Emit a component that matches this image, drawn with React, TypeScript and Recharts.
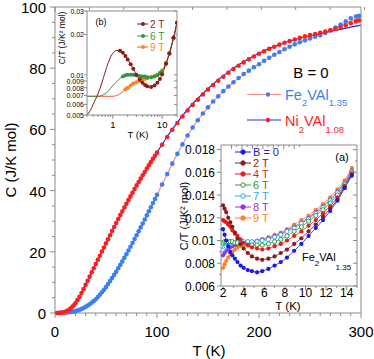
import React from 'react';
import { ComposedChart, LineChart, Line, XAxis, YAxis, CartesianGrid, Legend } from 'recharts';

const FONT = '"Liberation Sans", Arial, Helvetica, sans-serif';
const AXIS = '#8a8a8a';

// ---------- main panel: C(T) at B = 0 ----------
const tMain = [
  2, 4, 6, 8, 10, 12, 14, 16, 18, 20,
  22, 24, 26, 28, 30, 32, 34, 36, 38, 40,
  42, 44, 46, 48, 50, 52, 54, 56, 58, 60,
  62, 64, 66, 68, 70, 72, 74, 76, 78, 80,
  82, 84, 86, 88, 90, 92, 94, 96, 98, 100,
  105, 110, 115, 120, 125, 130, 135, 140, 145, 150,
  155, 160, 165, 170, 175, 180, 185, 190, 195, 200,
  205, 210, 215, 220, 225, 230, 235, 240, 245, 250,
  255, 260, 265, 270, 275, 280, 285, 290, 295, 298,
];
// Fe2VAl1.35 (blue dots)
const cFe = [
  0.0, 0.01, 0.03, 0.06, 0.1, 0.16, 0.24, 0.34, 0.46, 0.6,
  0.8, 1.03, 1.3, 1.63, 2.0, 2.42, 2.88, 3.38, 3.92, 4.5,
  5.22, 5.98, 6.78, 7.62, 8.5, 9.45, 10.42, 11.42, 12.45, 13.5,
  14.6, 15.72, 16.86, 18.02, 19.2, 20.42, 21.66, 22.9, 24.15, 25.4,
  26.68, 27.97, 29.27, 30.58, 31.9, 33.24, 34.58, 35.92, 37.26, 38.6,
  42.0, 45.4, 48.8, 52.0, 55.1, 58.0, 60.6, 63.0, 65.2, 67.2,
  69.1, 70.8, 72.5, 74.0, 75.4, 76.8, 78.1, 79.2, 80.3, 81.3,
  82.4, 83.4, 84.4, 85.3, 86.2, 87.0, 87.8, 88.5, 89.1, 89.7,
  90.3, 90.8, 91.5, 92.3, 93.3, 94.3, 95.3, 96.3, 96.9, 97.1,
];
// Ni2VAl1.08 (red dots)
const cNi = [
  0.01, 0.03, 0.08, 0.2, 0.4, 0.7, 1.15, 1.7, 2.4, 3.2,
  4.2, 5.3, 6.5, 7.8, 9.2, 10.5, 11.9, 13.3, 14.6, 16.0,
  17.4, 18.7, 20.1, 21.4, 22.8, 24.1, 25.4, 26.8, 28.1, 29.4,
  30.7, 32.0, 33.2, 34.5, 35.7, 36.9, 38.1, 39.3, 40.5, 41.7,
  42.8, 43.9, 45.0, 46.1, 47.2, 48.3, 49.3, 50.4, 51.4, 52.4,
  55.0, 57.5, 59.9, 62.1, 64.2, 66.2, 68.0, 69.7, 71.4, 73.0,
  74.5, 75.9, 77.2, 78.5, 79.7, 80.8, 81.9, 82.9, 83.8, 84.7,
  85.5, 86.3, 87.0, 87.7, 88.3, 88.9, 89.4, 89.9, 90.4, 90.8,
  91.2, 91.6, 92.0, 92.4, 92.9, 93.4, 94.0, 94.7, 95.3, 95.6,
];
// fit curves
const tFit = [0, 10, 20, 30, 40, 50, 60, 70, 80, 90, 100, 110, 120, 130, 140, 150, 160, 170, 180, 190, 200, 210, 220, 230, 240, 250, 260, 270, 280, 290, 300];
const feFit = [0, 0.1, 0.6, 2.0, 4.5, 8.5, 13.5, 19.2, 25.4, 31.9, 38.6, 45.4, 52.0, 58.0, 63.0, 67.2, 70.8, 74.0, 76.8, 79.2, 81.3, 83.4, 85.3, 87.0, 88.5, 89.7, 90.9, 92.4, 94.0, 95.4, 96.6];
const niFit = [0, 0.4, 3.2, 9.2, 16.0, 22.8, 29.4, 35.7, 41.7, 47.2, 52.5, 57.6, 62.3, 66.5, 70.1, 73.3, 76.2, 78.8, 81.1, 83.1, 84.9, 86.4, 87.7, 88.8, 89.8, 90.6, 91.3, 92.0, 92.7, 93.4, 94.1];

// ---------- inset (a): C/T vs T, Fe2VAl1.35, several fields ----------
const aT = [2.0, 2.15, 2.3, 2.5, 2.7, 2.9, 3.15, 3.4, 3.7, 4.0, 4.4, 4.8, 5.3, 5.8, 6.4, 7.0, 7.6, 8.2, 8.9, 9.6, 10.3, 11.0, 11.7, 12.4, 13.1, 13.8, 14.5];
const a0 = [0.0110, 0.0105, 0.0100, 0.0095, 0.0090, 0.0087, 0.0084, 0.0081, 0.0078, 0.0076, 0.0074, 0.0073, 0.0072, 0.0073, 0.0075, 0.0078, 0.0081, 0.0085, 0.0091, 0.0097, 0.0104, 0.0111, 0.0118, 0.0126, 0.0135, 0.0146, 0.0157];
const a2 = [0.0131, 0.0128, 0.0125, 0.0120, 0.0116, 0.0112, 0.0107, 0.0102, 0.0097, 0.0093, 0.0089, 0.0086, 0.0084, 0.0083, 0.0084, 0.0086, 0.0089, 0.0092, 0.0097, 0.0102, 0.0108, 0.0114, 0.0121, 0.0128, 0.0136, 0.0147, 0.0158];
const a4 = [0.0118, 0.0117, 0.0116, 0.0114, 0.0112, 0.0109, 0.0106, 0.0104, 0.0101, 0.0098, 0.0096, 0.0094, 0.0093, 0.0092, 0.0093, 0.0095, 0.0097, 0.0100, 0.0104, 0.0108, 0.0113, 0.0118, 0.0124, 0.0130, 0.0138, 0.0148, 0.0159];
const a6 = [0.0098, 0.0099, 0.0099, 0.0099, 0.0099, 0.0099, 0.0098, 0.0098, 0.0097, 0.0097, 0.0096, 0.0096, 0.0096, 0.0096, 0.0097, 0.0099, 0.0101, 0.0104, 0.0108, 0.0112, 0.0117, 0.0122, 0.0127, 0.0133, 0.0140, 0.0149, 0.0160];
const a7 = [0.0092, 0.0094, 0.0095, 0.0096, 0.0097, 0.0098, 0.0098, 0.0099, 0.0099, 0.0099, 0.0099, 0.0099, 0.0099, 0.0100, 0.0101, 0.0103, 0.0105, 0.0108, 0.0111, 0.0115, 0.0119, 0.0124, 0.0129, 0.0135, 0.0142, 0.0150, 0.0161];
const a8 = [0.0087, 0.0089, 0.0091, 0.0093, 0.0094, 0.0095, 0.0096, 0.0097, 0.0098, 0.0098, 0.0099, 0.0099, 0.0100, 0.0101, 0.0102, 0.0104, 0.0106, 0.0109, 0.0112, 0.0116, 0.0120, 0.0125, 0.0130, 0.0136, 0.0143, 0.0151, 0.0162];
const a9 = [0.0076, 0.0079, 0.0082, 0.0085, 0.0088, 0.0090, 0.0092, 0.0094, 0.0095, 0.0096, 0.0097, 0.0098, 0.0099, 0.0101, 0.0103, 0.0105, 0.0107, 0.0110, 0.0114, 0.0118, 0.0122, 0.0127, 0.0132, 0.0138, 0.0145, 0.0153, 0.0164];

// ---------- inset (b): C/T vs T, log-log, down to 0.3 K ----------
const bT = [0.3, 0.35, 0.4, 0.5, 0.6, 0.7, 0.8, 0.9, 1.0, 1.2, 1.4, 1.6, 1.8, 2.0, 2.3, 2.6, 3.0, 3.5, 4.0, 4.5, 5.0, 6.0, 7.0, 8.0, 9.0, 10, 12, 14, 17, 20];
const b2 = [0.0050, 0.0054, 0.0060, 0.0072, 0.0087, 0.0105, 0.0122, 0.0136, 0.0145, 0.0152, 0.0151, 0.0146, 0.0138, 0.0130, 0.0120, 0.0111, 0.0100, 0.0092, 0.0087, 0.0084, 0.0082, 0.0081, 0.0083, 0.0087, 0.0093, 0.0101, 0.0121, 0.0145, 0.0190, 0.0245];
const b6 = [0.0069, 0.0069, 0.0069, 0.0069, 0.0070, 0.0072, 0.0075, 0.0079, 0.0083, 0.0089, 0.0094, 0.0097, 0.0099, 0.0100, 0.0100, 0.0100, 0.0099, 0.0098, 0.0097, 0.0097, 0.0096, 0.0096, 0.0097, 0.0099, 0.0102, 0.0106, 0.0122, 0.0143, 0.0188, 0.0245];
const b9 = [0.0069, 0.0069, 0.0069, 0.0069, 0.0069, 0.0069, 0.0069, 0.0069, 0.0069, 0.0070, 0.0072, 0.0075, 0.0078, 0.0080, 0.0083, 0.0086, 0.0088, 0.0090, 0.0092, 0.0093, 0.0094, 0.0096, 0.0098, 0.0100, 0.0104, 0.0108, 0.0123, 0.0144, 0.0188, 0.0245];
// measured points start here (below it only the model curve is drawn)
const bDotsFrom = { b2: 1.4, b6: 1.6, b9: 1.8 };

// tick lists
const mainXTicks = Array.from({ length: 31 }, (_, i) => i * 10);
const mainYTicks = Array.from({ length: 21 }, (_, i) => i * 5);
const aXTicks = [2, 3, 4, 5, 6, 7, 8, 9, 10, 11, 12, 13, 14, 15];
const aYTicks = [0.006, 0.007, 0.008, 0.009, 0.01, 0.011, 0.012, 0.013, 0.014, 0.015, 0.016, 0.017, 0.018];
const bXTicks = [0.3, 0.4, 0.5, 0.6, 0.7, 0.8, 0.9, 1, 2, 3, 4, 5, 6, 7, 8, 9, 10, 20];
const bYTicks = [0.005, 0.006, 0.007, 0.008, 0.009, 0.01, 0.02, 0.03];

const mainRows = tMain.map((t, i) => ({ t, fe: cFe[i], ni: cNi[i] }));
const fitRows = tFit.map((t, i) => ({ t, feFit: feFit[i], niFit: niFit[i] }));
const aRows = aT.map((t, i) => ({ t, a0: a0[i], a2: a2[i], a4: a4[i], a6: a6[i], a7: a7[i], a8: a8[i], a9: a9[i] }));
const bRows = bT.map((t, i) => ({ t, b2: b2[i], b6: b6[i], b9: b9[i] }));

const C = {
  fe: '#3b7ff5', ni: '#ff1c1c', feFit: '#ff8c8c', niFit: '#2a2ad8',
  b0: '#1a1ae6', t2: '#8b1a1a', t4: '#e81c1c', t6: '#2e9a3e', t7: '#2aaaf0', t8: '#9a30e0', t9: '#ff8026', t9line: '#ff4a3a',
};

type Side = 'left' | 'right' | 'top' | 'bottom';
type TickOpt = {
  isMajor: (v: number) => boolean;
  major: number;
  minor: number;
  inward?: boolean;
  fmt?: (v: number) => string;
  gap?: number;
  size?: number;
};

// tick line + label; axes are given tickSize 0 / tickMargin 0 so (x, y) sits on the axis line
const axisTick = (side: Side, o: TickOpt) => (props: any) => {
  const { x, y, payload } = props;
  const v = payload.value;
  const maj = o.isMajor(v);
  const len = maj ? o.major : o.minor;
  const s = o.inward ? -1 : 1;
  let x2 = x;
  let y2 = y;
  if (side === 'left') x2 = x - s * len;
  else if (side === 'right') x2 = x + s * len;
  else if (side === 'bottom') y2 = y + s * len;
  else y2 = y - s * len;
  let label = null;
  if (o.fmt && maj) {
    const gap = o.gap ?? 4;
    const common = { fontSize: o.size ?? 12, fontFamily: FONT, fill: '#000' };
    if (side === 'left') {
      label = <text x={x - gap} y={y} dy="0.4em" textAnchor="end" {...common}>{o.fmt(v)}</text>;
    } else if (side === 'bottom') {
      label = <text x={x} y={y + gap} textAnchor="middle" {...common}>{o.fmt(v)}</text>;
    }
  }
  return (
    <g>
      <line x1={x} y1={y} x2={x2} y2={y2} stroke={AXIS} strokeWidth={1} />
      {label}
    </g>
  );
};

const near = (v: number, k: number) => Math.abs(v / k - Math.round(v / k)) < 1e-6;
const fmtNum = (v: number) => String(+v.toFixed(3));

const vText = (x: number, y: number, size: number, text: string) => (
  <text x={x} y={y} transform={`rotate(-90 ${x} ${y})`} textAnchor="middle" dominantBaseline="central" fontSize={size}>
    {text}
  </text>
);

// ---------- overlays (axis titles, legends, notes) ----------
const MainOverlay = () => (
  <svg width={374} height={359} style={{ display: 'block', fontFamily: FONT }}>
    {vText(10, 160, 15, 'C (J/K mol)')}
    <text x={209} y={356} textAnchor="middle" fontSize={15}>T (K)</text>
    <text x={311} y={78} textAnchor="middle" fontSize={15}>B = 0</text>
    <line x1={247} y1={94.5} x2={281} y2={94.5} stroke={C.feFit} strokeWidth={1.2} />
    <circle cx={268} cy={94.5} r={2.2} fill={C.fe} />
    <text x={285} y={100} fontSize={14.5} fill={C.fe}>
      Fe<tspan fontSize={9.5} dy={6}>2</tspan><tspan dy={-6}>VAl</tspan><tspan fontSize={9.5} dy={6}>1.35</tspan>
    </text>
    <line x1={247} y1={120} x2={281} y2={120} stroke={C.niFit} strokeWidth={1.2} />
    <circle cx={268} cy={120} r={2.2} fill={C.ni} />
    <text x={285} y={126} fontSize={14.5} fill={C.ni}>
      Ni<tspan fontSize={9.5} dy={7}>2</tspan><tspan dy={-7}>VAl</tspan><tspan fontSize={9.5} dy={7}>1.08</tspan>
    </text>
  </svg>
);

const aLegend = [
  { name: 'B = 0', color: C.b0, open: false },
  { name: '2 T', color: C.t2, open: false },
  { name: '4 T', color: C.t4, open: false },
  { name: '6 T', color: C.t6, open: true },
  { name: '7 T', color: C.t7, open: true },
  { name: '8 T', color: C.t8, open: false },
  { name: '9 T', color: C.t9, open: false },
];

const AOverlay = () => (
  <svg width={186} height={180} style={{ display: 'block', fontFamily: FONT }}>
    {vText(9, 76, 11, 'C/T (J/K² mol)')}
    <text x={113} y={170} textAnchor="middle" fontSize={11.5}>T (K)</text>
    <text x={167} y={21} textAnchor="middle" fontSize={11}>(a)</text>
    {aLegend.map((d, i) => (
      <g key={d.name}>
        <line x1={60} y1={12 + i * 11} x2={76} y2={12 + i * 11} stroke={d.color} strokeWidth={1} />
        <circle cx={68} cy={12 + i * 11} r={2.2} fill={d.open ? '#fff' : d.color} stroke={d.color} strokeWidth={1} />
        <text x={78} y={16 + i * 11} fontSize={11} fill={d.color}>{d.name}</text>
      </g>
    ))}
    <text x={127} y={121} fontSize={11}>
      Fe<tspan fontSize={8} dy={5}>2</tspan><tspan dy={-5}>VAl</tspan><tspan fontSize={8} dy={9}>1.35</tspan>
    </text>
  </svg>
);

const bLegend = [
  { name: '2 T', line: C.t2, dot: C.t2 },
  { name: '6 T', line: C.t6, dot: C.t6 },
  { name: '9 T', line: C.t9line, dot: C.t9 },
];

const BOverlay = () => (
  <svg width={130} height={140} style={{ display: 'block', fontFamily: FONT }}>
    {vText(12, 34, 8.5, 'C/T (J/K² mol)')}
    <text x={88} y={134} textAnchor="middle" fontSize={9.5}>T (K)</text>
    <text x={51} y={21} textAnchor="middle" fontSize={9}>(b)</text>
    {bLegend.map((d, i) => {
      const yy = [20, 32, 43][i];
      return (
        <g key={d.name}>
          <line x1={87} y1={yy} x2={98} y2={yy} stroke={d.line} strokeWidth={1} />
          <circle cx={93} cy={yy} r={2} fill={d.dot} />
          <text x={100} y={yy + 3.5} fontSize={10} fill={d.dot}>{d.name}</text>
        </g>
      );
    })}
  </svg>
);

const overlayLegend = (Comp: React.FC, w: number, h: number) => (
  <Legend
    layout="vertical"
    align="center"
    verticalAlign="middle"
    content={() => <Comp />}
    wrapperStyle={{ left: 0, top: 0, width: w, height: h, pointerEvents: 'none' }}
  />
);

// ---------- charts ----------
const MainChart = () => (
  <ComposedChart width={374} height={359} data={mainRows} margin={{ top: 0, right: 0, left: 0, bottom: 0 }}>
    <XAxis dataKey="t" type="number" domain={[0, 300]} ticks={mainXTicks} interval={0} height={46}
      tickSize={0} tickMargin={0} stroke={AXIS}
      tick={axisTick('bottom', { isMajor: (v) => near(v, 100), major: 5, minor: 3, fmt: String, gap: 24, size: 15 })} />
    <XAxis xAxisId="top" orientation="top" type="number" domain={[0, 300]} ticks={mainXTicks} interval={0} height={7}
      tickSize={0} tickMargin={0} stroke={AXIS}
      tick={axisTick('top', { isMajor: (v) => near(v, 100), major: 5, minor: 3, inward: true })} />
    <YAxis type="number" domain={[0, 100]} ticks={mainYTicks} interval={0} width={55}
      tickSize={0} tickMargin={0} stroke={AXIS}
      tick={axisTick('left', { isMajor: (v) => near(v, 20), major: 5, minor: 3, fmt: String, gap: 9, size: 15 })} />
    <YAxis yAxisId="right" orientation="right" type="number" domain={[0, 100]} ticks={mainYTicks} interval={0} width={13}
      tickSize={0} tickMargin={0} stroke={AXIS}
      tick={axisTick('right', { isMajor: (v) => near(v, 20), major: 5, minor: 3, inward: true })} />
    <Line data={fitRows} dataKey="feFit" type="monotone" stroke={C.feFit} strokeWidth={1.2} dot={false} activeDot={false} isAnimationActive={false} legendType="none" />
    <Line data={fitRows} dataKey="niFit" type="monotone" stroke={C.niFit} strokeWidth={1.2} dot={false} activeDot={false} isAnimationActive={false} legendType="none" />
    <Line dataKey="fe" stroke="none" dot={{ r: 2.3, fill: C.fe, stroke: 'none' }} activeDot={false} isAnimationActive={false} legendType="none" />
    <Line dataKey="ni" stroke="none" dot={{ r: 2.3, fill: C.ni, stroke: 'none' }} activeDot={false} isAnimationActive={false} legendType="none" />
    {overlayLegend(MainOverlay, 374, 359)}
  </ComposedChart>
);

const aSeries = [
  { key: 'a9', color: C.t9, open: false },
  { key: 'a8', color: C.t8, open: false },
  { key: 'a7', color: C.t7, open: true },
  { key: 'a6', color: C.t6, open: true },
  { key: 'a4', color: C.t4, open: false },
  { key: 'a2', color: C.t2, open: false },
  { key: 'a0', color: C.b0, open: false },
];

const InsetA = () => (
  <LineChart width={186} height={180} data={aRows} margin={{ top: 0, right: 0, left: 0, bottom: 0 }}>
    <CartesianGrid horizontal={false} vertical={false} fill="#fff" stroke="none" />
    <XAxis dataKey="t" type="number" domain={[1.8, 15]} ticks={aXTicks} interval={0} height={34} allowDataOverflow
      tickSize={0} tickMargin={0} stroke={AXIS}
      tick={axisTick('bottom', { isMajor: (v) => near(v, 2) && v < 15, major: 4, minor: 2, fmt: String, gap: 11, size: 12 })} />
    <XAxis xAxisId="top" orientation="top" type="number" domain={[1.8, 15]} ticks={aXTicks} interval={0} height={5} allowDataOverflow
      tickSize={0} tickMargin={0} stroke={AXIS}
      tick={axisTick('top', { isMajor: (v) => near(v, 2), major: 4, minor: 2, inward: true })} />
    <YAxis type="number" domain={[0.006, 0.0184]} ticks={aYTicks} interval={0} width={46} allowDataOverflow
      tickSize={0} tickMargin={0} stroke={AXIS}
      tick={axisTick('left', { isMajor: (v) => near(v, 0.002), major: 4, minor: 2, fmt: fmtNum, gap: 6, size: 12 })} />
    <YAxis yAxisId="right" orientation="right" type="number" domain={[0.006, 0.0184]} ticks={aYTicks} interval={0} width={4} allowDataOverflow
      tickSize={0} tickMargin={0} stroke={AXIS}
      tick={axisTick('right', { isMajor: (v) => near(v, 0.002), major: 4, minor: 2, inward: true })} />
    {aSeries.map((s) => (
      <Line key={s.key} dataKey={s.key} stroke={s.color} strokeWidth={0.8}
        dot={s.open ? { r: 2.1, fill: '#fff', stroke: s.color, strokeWidth: 1 } : { r: 2.1, fill: s.color, stroke: 'none' }}
        activeDot={false} isAnimationActive={false} legendType="none" />
    ))}
    {overlayLegend(AOverlay, 186, 180)}
  </LineChart>
);

const bSeries = [
  { key: 'b9', line: C.t9line, dot: C.t9 },
  { key: 'b6', line: C.t6, dot: C.t6 },
  { key: 'b2', line: C.t2, dot: C.t2 },
];

const InsetB = () => (
  <LineChart width={130} height={140} data={bRows} margin={{ top: 0, right: 0, left: 0, bottom: 0 }}>
    <CartesianGrid horizontal={false} vertical={false} fill="#fff" stroke="none" />
    <XAxis dataKey="t" type="number" scale="log" domain={[0.3, 20]} ticks={bXTicks} interval={0} height={29} allowDataOverflow
      tickSize={0} tickMargin={0} stroke={AXIS}
      tick={axisTick('bottom', { isMajor: (v) => v === 1 || v === 10, major: 4, minor: 2, fmt: String, gap: 13, size: 9.5 })} />
    <XAxis xAxisId="top" orientation="top" type="number" scale="log" domain={[0.3, 20]} ticks={bXTicks} interval={0} height={7} allowDataOverflow
      tickSize={0} tickMargin={0} stroke={AXIS}
      tick={axisTick('top', { isMajor: (v) => v === 1 || v === 10, major: 4, minor: 2, inward: true })} />
    <YAxis type="number" scale="log" domain={[0.005, 0.03]} ticks={bYTicks} interval={0} width={37} allowDataOverflow
      tickSize={0} tickMargin={0} stroke={AXIS}
      tick={axisTick('left', { isMajor: () => true, major: 3, minor: 2, fmt: fmtNum, gap: 3, size: 7 })} />
    <YAxis yAxisId="right" orientation="right" type="number" scale="log" domain={[0.005, 0.03]} ticks={bYTicks} interval={0} width={3} allowDataOverflow
      tickSize={0} tickMargin={0} stroke={AXIS}
      tick={axisTick('right', { isMajor: () => true, major: 3, minor: 2, inward: true })} />
    {bSeries.map((s) => (
      <Line key={s.key} dataKey={s.key} type="monotone" stroke={s.line} strokeWidth={1}
        dot={(p: any) =>
          p.payload.t >= bDotsFrom[s.key as keyof typeof bDotsFrom]
            ? <circle key={`${s.key}-${p.index}`} cx={p.cx} cy={p.cy} r={2} fill={s.dot} />
            : <g key={`${s.key}-${p.index}`} />}
        activeDot={false} isAnimationActive={false} legendType="none" />
    ))}
    {overlayLegend(BOverlay, 130, 140)}
  </LineChart>
);

export default function App() {
  return (
    <div style={{ position: 'absolute', left: 0, top: 0, width: 374, height: 359, background: '#fff', fontFamily: FONT }}>
      <div style={{ position: 'absolute', left: 0, top: 0 }}><MainChart /></div>
      <div style={{ position: 'absolute', left: 50, top: 4 }}><InsetB /></div>
      <div style={{ position: 'absolute', left: 175, top: 140 }}><InsetA /></div>
    </div>
  );
}
